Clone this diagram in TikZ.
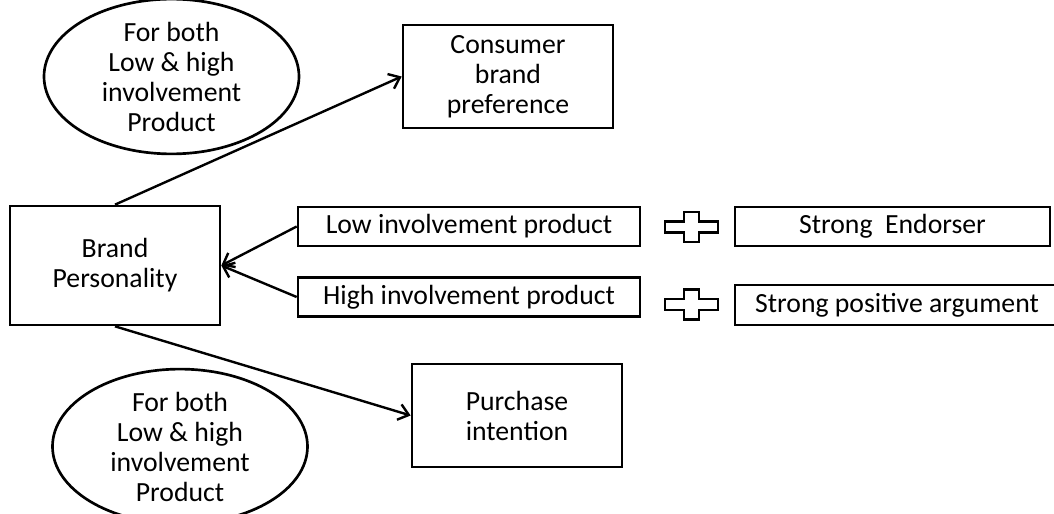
\documentclass[tikz,border=0pt]{standalone}
\usepackage{fontspec}
\setmainfont{Carlito}
\usetikzlibrary{shapes.geometric,arrows.meta}
\tikzset{
  txt/.style={font=\fontsize{20.8}{22.5}\selectfont},
  box/.style={draw,line width=2pt,rectangle,inner sep=0pt,align=center,txt},
  oval/.style={draw,line width=2pt,ellipse,inner sep=0pt,align=center,txt,minimum width=191.25pt,minimum height=101.25pt},
  link/.style={line width=1.8pt,-{Straight Barb[length=7.5pt,width=12pt,line width=1.8pt]}},
  plussign/.pic={\draw[line width=2pt,fill=white] (-26.5,-5.5) -- (-7.5,-5.5) -- (-7.5,-15) -- (7.5,-15) -- (7.5,-5.5) -- (26.5,-5.5) -- (26.5,5.5) -- (7.5,5.5) -- (7.5,15) -- (-7.5,15) -- (-7.5,5.5) -- (-26.5,5.5) -- cycle;}
}
\begin{document}
\begin{tikzpicture}[x=0.75pt,y=-0.75pt]
\useasboundingbox[fill=white] (0,0) rectangle (1054,514);
\node[oval] (e1) at (171.5,76.5) {For both\\Low \& high\\involvement\\Product};
\node[oval] (e2) at (180,446.5) {For both\\Low \& high\\involvement\\Product};
\node[box,minimum width=157.5pt,minimum height=77.25pt] (cbp) at (508,76.5) {Consumer\\brand\\preference};
\node[box,minimum width=157.5pt,minimum height=89.25pt] (bp) at (115,265.5) {Brand\\Personality};
\node[box,minimum width=256.5pt,minimum height=29.25pt] (low) at (469,226.5) {Low involvement product};
\node[box,minimum width=256.5pt,minimum height=29.25pt] (high) at (469,297) {High involvement product};
\node[box,minimum width=157.5pt,minimum height=77.25pt] (pi) at (517,415.5) {Purchase\\intention};
\node[box,minimum width=236.25pt,minimum height=29.25pt] (se) at (892.5,226.5) {Strong\ \ Endorser};
\node[box,minimum width=243pt,minimum height=30pt] (spa) at (897,305) {Strong positive argument};
\pic (p1) at (691.5,227) {plussign};
\pic (p2) at (691.5,304.5) {plussign};
\draw[link] (bp.north) -- (cbp.west);
\draw[link] (bp.south) -- (pi.west);
\draw[link] (low.west) -- (bp.east);
\draw[link] (high.west) -- (bp.east);
\end{tikzpicture}
\end{document}
